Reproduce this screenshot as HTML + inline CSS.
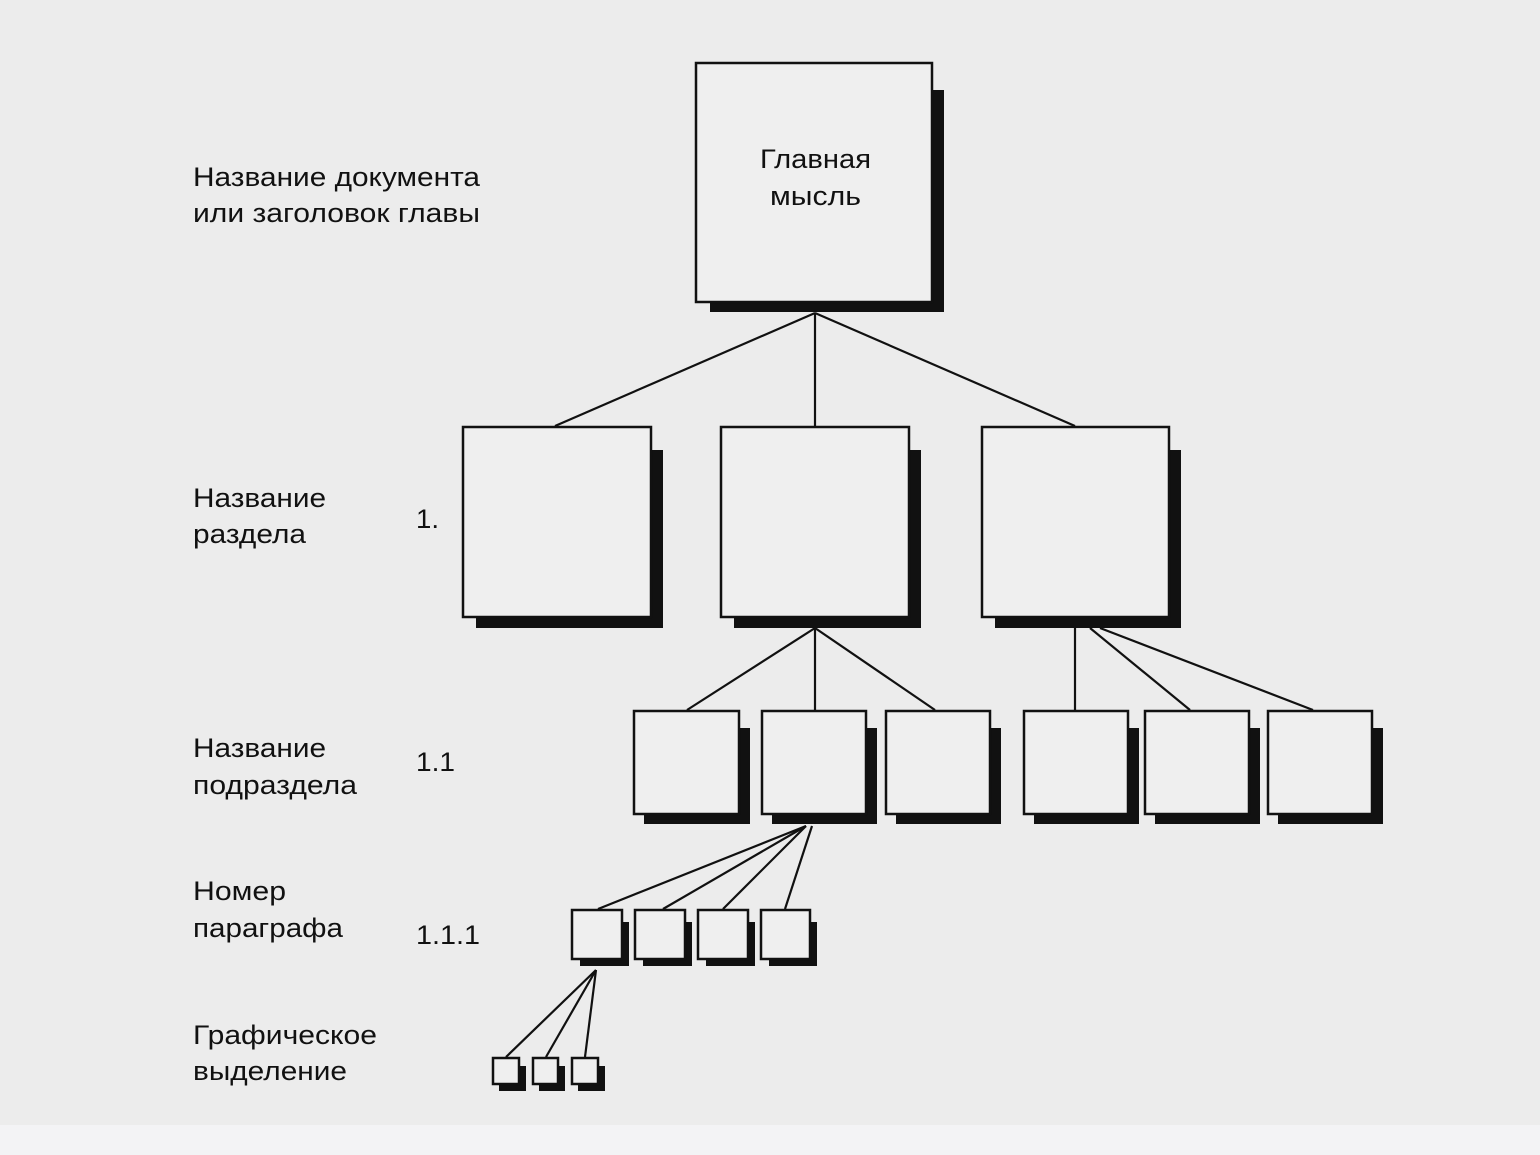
<!DOCTYPE html>
<html><head><meta charset="utf-8"><style>
html,body{margin:0;padding:0;background:#ececec;}
svg{display:block}
text{font-family:"Liberation Sans",sans-serif;font-size:27px;fill:#111;}
</style></head><body>
<svg width="1540" height="1155" viewBox="0 0 1540 1155" xmlns="http://www.w3.org/2000/svg">
<rect x="0" y="0" width="1540" height="1155" fill="#ececec"/>
<rect x="0" y="1125" width="1540" height="30" fill="#f3f3f5"/>
<g stroke="#111" stroke-width="2.2" fill="none">
<line x1="815" y1="313" x2="555" y2="426"/>
<line x1="815" y1="313" x2="815" y2="426"/>
<line x1="815" y1="313" x2="1075" y2="426"/>
<line x1="815" y1="628" x2="687" y2="710"/>
<line x1="815" y1="628" x2="815" y2="710"/>
<line x1="815" y1="628" x2="935" y2="710"/>
<line x1="1075" y1="628" x2="1075" y2="710"/>
<line x1="1090" y1="628" x2="1190" y2="710"/>
<line x1="1100" y1="628" x2="1313" y2="710"/>
<line x1="806" y1="826" x2="598" y2="909"/>
<line x1="806" y1="826" x2="663" y2="909"/>
<line x1="806" y1="826" x2="723" y2="909"/>
<line x1="812" y1="826" x2="785" y2="909"/>
<line x1="596" y1="970" x2="506" y2="1057"/>
<line x1="596" y1="970" x2="546" y2="1057"/>
<line x1="596" y1="970" x2="585" y2="1057"/>
</g>
<g fill="#111">
<!-- shadows -->
<rect x="710" y="90" width="234" height="222"/>
<rect x="476" y="450" width="187" height="178"/>
<rect x="734" y="450" width="187" height="178"/>
<rect x="995" y="450" width="186" height="178"/>
<rect x="644" y="728" width="106" height="96"/>
<rect x="772" y="728" width="105" height="96"/>
<rect x="896" y="728" width="105" height="96"/>
<rect x="1034" y="728" width="105" height="96"/>
<rect x="1155" y="728" width="105" height="96"/>
<rect x="1278" y="728" width="105" height="96"/>
<rect x="580" y="922" width="49" height="44"/>
<rect x="643" y="922" width="49" height="44"/>
<rect x="706" y="922" width="49" height="44"/>
<rect x="769" y="922" width="48" height="44"/>
<rect x="499" y="1066" width="27" height="25"/>
<rect x="539" y="1066" width="26" height="25"/>
<rect x="578" y="1066" width="27" height="25"/>
</g>
<g fill="#efefef" stroke="#111" stroke-width="2.5">
<rect x="696" y="63" width="236" height="239"/>
<rect x="463" y="427" width="188" height="190"/>
<rect x="721" y="427" width="188" height="190"/>
<rect x="982" y="427" width="187" height="190"/>
<rect x="634" y="711" width="105" height="103"/>
<rect x="762" y="711" width="104" height="103"/>
<rect x="886" y="711" width="104" height="103"/>
<rect x="1024" y="711" width="104" height="103"/>
<rect x="1145" y="711" width="104" height="103"/>
<rect x="1268" y="711" width="104" height="103"/>
<rect x="572" y="910" width="50" height="49"/>
<rect x="635" y="910" width="50" height="49"/>
<rect x="698" y="910" width="50" height="49"/>
<rect x="761" y="910" width="49" height="49"/>
<rect x="493" y="1058" width="26" height="26"/>
<rect x="533" y="1058" width="25" height="26"/>
<rect x="572" y="1058" width="26" height="26"/>
</g>
<text x="760" y="168" textLength="111" lengthAdjust="spacingAndGlyphs">Главная</text>
<text x="770" y="205" textLength="91" lengthAdjust="spacingAndGlyphs">мысль</text>
<text x="193" y="186" textLength="287" lengthAdjust="spacingAndGlyphs">Название документа</text>
<text x="193" y="222" textLength="287" lengthAdjust="spacingAndGlyphs">или заголовок главы</text>
<text x="193" y="507" textLength="133" lengthAdjust="spacingAndGlyphs">Название</text>
<text x="193" y="543" textLength="113" lengthAdjust="spacingAndGlyphs">раздела</text>
<text x="416" y="528" textLength="23" lengthAdjust="spacingAndGlyphs">1.</text>
<text x="193" y="757" textLength="133" lengthAdjust="spacingAndGlyphs">Название</text>
<text x="193" y="794" textLength="164" lengthAdjust="spacingAndGlyphs">подраздела</text>
<text x="416" y="771" textLength="39" lengthAdjust="spacingAndGlyphs">1.1</text>
<text x="193" y="900" textLength="93" lengthAdjust="spacingAndGlyphs">Номер</text>
<text x="193" y="937" textLength="150" lengthAdjust="spacingAndGlyphs">параграфа</text>
<text x="416" y="944" textLength="64" lengthAdjust="spacingAndGlyphs">1.1.1</text>
<text x="193" y="1044" textLength="184" lengthAdjust="spacingAndGlyphs">Графическое</text>
<text x="193" y="1080" textLength="154" lengthAdjust="spacingAndGlyphs">выделение</text>
</svg>
</body></html>
